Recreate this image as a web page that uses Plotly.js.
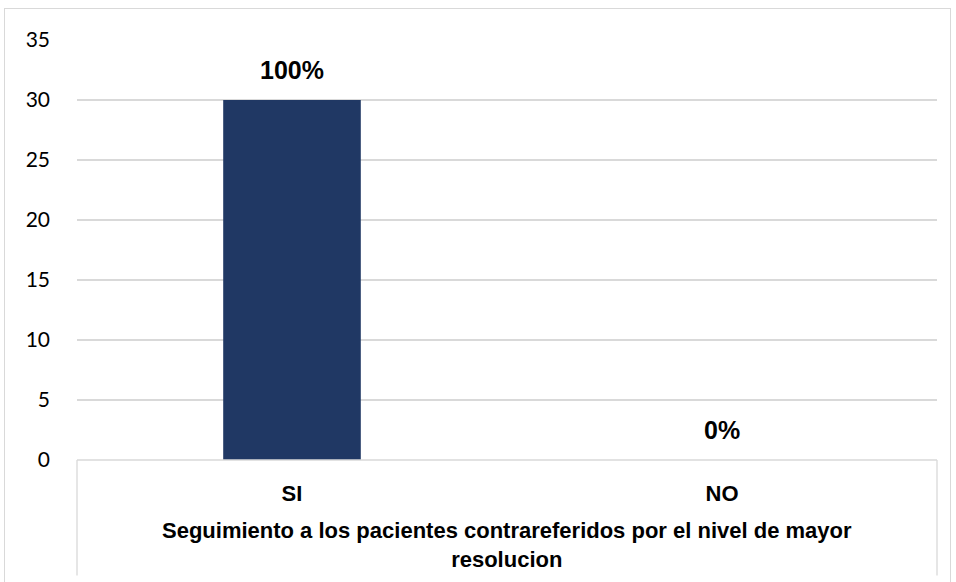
<!DOCTYPE html>
<html>
<head>
<meta charset="utf-8">
<script src="https://cdn.plot.ly/plotly-3.0.1.min.js"></script>
<style>
  html, body { margin:0; padding:0; background:#fff; }
  #wrap { position:relative; width:956px; height:582px; overflow:hidden; }
  #frame { position:absolute; left:4px; top:8px; width:947px; height:600px; border:1.5px solid #d9d9d9; box-sizing:border-box; pointer-events:none; }
  #chart { position:absolute; left:0; top:0; width:956px; height:582px; }
</style>
</head>
<body>
<div id="wrap">
  <div id="chart"></div>
  <div id="frame"></div>
</div>
<script>
const categories = ["SI", "NO"];
const values = [30, 0];
const pctLabels = ["100%", "0%"];
const yTicks = [0, 5, 10, 15, 20, 25, 30, 35];
const axisTitleLines = ["Seguimiento a los pacientes contrareferidos por el nivel de mayor", "resolucion"];

const trace = {
  type: "bar",
  x: categories,
  y: values,
  width: 0.32,
  marker: { color: "#203864" },
  hoverinfo: "x+y"
};

const annotations = categories.map((c, i) => ({
  x: c, y: values[i], xref: "x", yref: "y",
  text: "<b>" + pctLabels[i] + "</b>", showarrow: false,
  yanchor: "bottom", yshift: 14,
  font: { family: "Liberation Sans, Arial, sans-serif", size: 25, color: "#000" }
}));

annotations.push({
  xref: "paper", yref: "paper", x: 0.5, y: -0.133, yanchor: "top",
  text: axisTitleLines.map(t => "<b>" + t + "</b>").join("<br>"),
  showarrow: false, align: "center",
  font: { family: "Liberation Sans, Arial, sans-serif", size: 22, color: "#000" }
});

const layout = {
  width: 956, height: 582,
  margin: { l: 77, r: 19, t: 40, b: 122 },
  paper_bgcolor: "#fff", plot_bgcolor: "#fff",
  showlegend: false,
  bargap: 0.68,
  xaxis: {
    type: "category",
    range: [-0.5, 1.5],
    showgrid: false,
    zeroline: false,
    showline: false,
    ticks: "",
    ticklabelstandoff: 18,
    tickfont: { family: "Liberation Sans, Arial, sans-serif", size: 22, color: "#000", weight: "bold" },
    fixedrange: true
  },
  yaxis: {
    range: [0, 35],
    tickvals: yTicks,
    ticktext: yTicks.map(String),
    showgrid: true,
    gridcolor: "#d9d9d9",
    gridwidth: 1.3,
    zeroline: false,
    showline: false,
    ticks: "",
    ticklabelstandoff: 26,
    tickfont: { family: "Lato, Carlito, Calibri, sans-serif", size: 21, color: "#000" },
    fixedrange: true
  },
  shapes: [
    { type: "line", xref: "paper", yref: "paper", x0: 0, x1: 1, y0: 0, y1: 0, line: { color: "#d9d9d9", width: 1.3 } },
    { type: "line", xref: "paper", yref: "paper", x0: 0, x1: 0, y0: 0, y1: -0.275, line: { color: "#d9d9d9", width: 1.3 } },
    { type: "line", xref: "paper", yref: "paper", x0: 1, x1: 1, y0: 0, y1: -0.275, line: { color: "#d9d9d9", width: 1.3 } }
  ],
  annotations: annotations
};

Plotly.newPlot("chart", [trace], layout, { displayModeBar: false, staticPlot: true });
</script>
</body>
</html>
